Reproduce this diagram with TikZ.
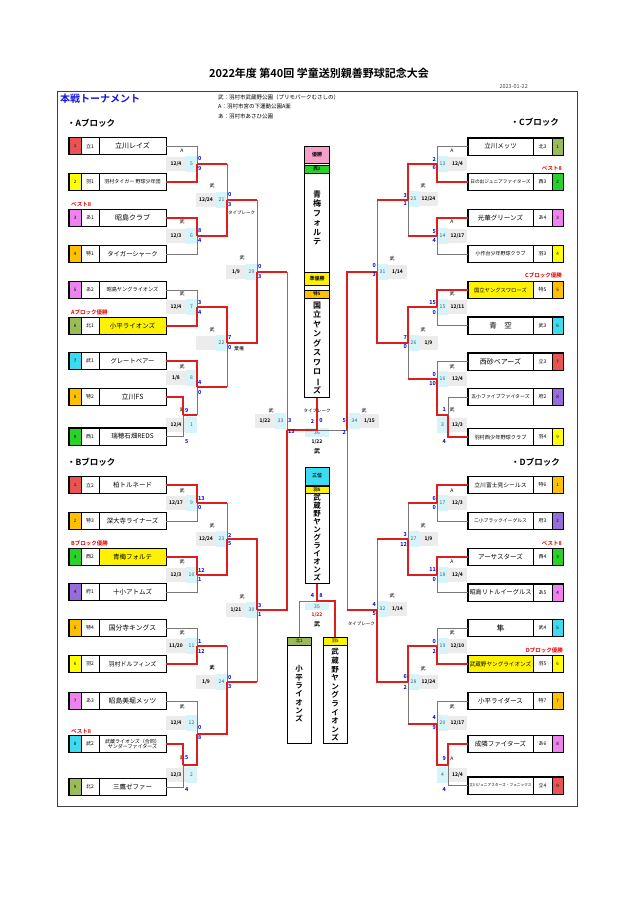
\documentclass[tikz,border=0pt]{standalone}
\usepackage{fontspec}
\setmainfont{Noto Sans CJK JP}[BoldFont={* Bold}]
\usetikzlibrary{calc}
\definecolor{cTachi}{RGB}{232,84,84}
\definecolor{cHamura}{RGB}{255,255,0}
\definecolor{cAki}{RGB}{238,130,238}
\definecolor{cToku}{RGB}{255,192,0}
\definecolor{cKita}{RGB}{155,187,89}
\definecolor{cMusa}{RGB}{60,220,240}
\definecolor{cNishi}{RGB}{40,210,40}
\definecolor{cFu}{RGB}{150,110,220}
\definecolor{lred}{RGB}{220,30,30}
\definecolor{lgray}{RGB}{120,120,120}
\definecolor{cgray}{RGB}{236,236,236}
\definecolor{ccyan}{RGB}{214,244,250}
\definecolor{sblue}{RGB}{0,0,220}
\definecolor{ntext}{RGB}{70,90,110}
\definecolor{pinkH}{RGB}{245,160,200}
\definecolor{tblue}{RGB}{20,20,230}
\definecolor{lblred}{RGB}{230,0,0}
\newcommand\tatebar{\rotatebox[origin=c]{-90}{ー}}
\newcommand\teamL[8]{%
\node[cellbox,fill=#3,minimum width=12pt,font=\fontsize{4.5}{5}\selectfont] (#1n) at (75,#2) {#4};
\node[cellbox,fill=white,minimum width=18pt,font=\fontsize{5}{6}\selectfont] (#1c) at (90,#2) {#5};
\node[cellbox,fill=#6,minimum width=67pt,align=center,font=\fontsize{#7}{#7}\selectfont] (#1) at (132.5,#2) {#8};
\draw[boxline] (#1n.north west) rectangle (#1.south east);}
\newcommand\teamR[8]{%
\node[cellbox,fill=#6,minimum width=65pt,align=center,font=\fontsize{#7}{#7}\selectfont] (#1) at (500.5,#2) {#8};
\node[cellbox,fill=white,minimum width=19pt,font=\fontsize{5}{6}\selectfont] (#1c) at (542.5,#2) {#5};
\node[cellbox,fill=#3,minimum width=11pt,font=\fontsize{4.5}{5}\selectfont] (#1n) at (557.5,#2) {#4};
\draw[boxline] (#1.north west) rectangle (#1n.south east);}
\newcommand\mcL[6]{%
\fill[cgray] (#1-31,#2-7) rectangle (#1-11,#2+7);
\fill[ccyan] (#1-11,#2-8) rectangle (#1,#2+8);
\node[vtxt] (mv#6) at (#1-15,#3) {#4};
\node[dtxt] (md#6) at (#1-21,#2) {#5};
\node[ntxt] (mn#6) at (#1-5.5,#2) {#6};}
\newcommand\mcR[6]{%
\fill[ccyan] (#1,#2-8) rectangle (#1+11,#2+8);
\fill[cgray] (#1+11,#2-7) rectangle (#1+30,#2+7);
\node[vtxt] (mv#6) at (#1+15,#3) {#4};
\node[dtxt] (md#6) at (#1+20.5,#2) {#5};
\node[ntxt] (mn#6) at (#1+5.5,#2) {#6};}
\newcommand\scL[6]{%
\node[sc,anchor=west] (s#1a) at (#2+1,#3) {#4};
\node[sc,anchor=west] (s#1b) at (#2+1,#5) {#6};}
\newcommand\scR[6]{%
\node[sc,anchor=east] (s#1a) at (#2-1,#3) {#4};
\node[sc,anchor=east] (s#1b) at (#2-1,#5) {#6};}
\begin{document}
\begin{tikzpicture}[x=1pt,y=-1pt,
  cellbox/.style={draw,line width=0.4pt,rectangle,inner sep=0pt,minimum height=17pt},
  boxline/.style={line width=1.1pt},
  win/.style={draw=lred,line width=1.6pt},
  lose/.style={draw=lgray,line width=0.8pt},
  sc/.style={text=sblue,font=\bfseries\fontsize{5.5}{6}\selectfont,inner sep=0pt},
  vtxt/.style={font=\fontsize{5}{6}\selectfont,inner sep=0pt},
  dtxt/.style={font=\bfseries\fontsize{5}{6}\selectfont,inner sep=0pt},
  ntxt/.style={text=ntext,font=\fontsize{5}{6}\selectfont,inner sep=0pt},
  lab/.style={text=lblred,font=\bfseries\fontsize{5.5}{6}\selectfont,inner sep=0pt},
  hdr/.style={draw,line width=0.4pt,inner sep=0pt,font=\bfseries\fontsize{5}{6}\selectfont},
  vname/.style={align=center,inner sep=0pt,font=\bfseries\fontsize{8}{9.5}\selectfont},
  tall/.style={draw,line width=1pt,inner sep=0pt,minimum width=24pt},
  small/.style={inner sep=0pt,font=\fontsize{5.5}{6.5}\selectfont},
  blk/.style={inner sep=0pt,font=\bfseries\fontsize{8.5}{9}\selectfont},
]
\useasboundingbox[fill=white] (0,0) rectangle (636,899);
% header
\node[inner sep=0pt,font=\bfseries\fontsize{11}{12}\selectfont] (title) at (319,73) {2022年度 第40回 学童送別親善野球記念大会};
\node[small,anchor=east,text=black!70] (date) at (528,87) {2023-01-22};
\draw[line width=0.8pt,black!75] (57,91) rectangle (577,806);
\node[inner sep=0pt,anchor=west,text=tblue,font=\bfseries\fontsize{10}{11}\selectfont] (honsen) at (60,99) {本戦トーナメント};
\node[small,anchor=west] (ven1) at (218,97) {武：羽村市武蔵野公園（プリモパークむさしの）};
\node[small,anchor=west] (ven2) at (218,106.5) {A：羽村市宮の下運動公園A面};
\node[small,anchor=west] (ven3) at (218,116.5) {あ：羽村市あさひ公園};
\node[blk,anchor=west] (hA) at (67,123) {・Aブロック};
\node[blk,anchor=east] (hC) at (559,122) {・Cブロック};
\node[blk,anchor=west] (hB) at (67,462) {・Bブロック};
\node[blk,anchor=east] (hD) at (560,462) {・Dブロック};
% labels
\node[lab,anchor=west] (lA3) at (71,204) {ベスト8};
\node[lab,anchor=west] (lA6) at (71,312) {Aブロック優勝};
\node[lab,anchor=west] (lB3) at (71,543) {Bブロック優勝};
\node[lab,anchor=west] (lB8) at (71,731) {ベスト8};
\node[lab,anchor=east] (lC2) at (562,168) {ベスト8};
\node[lab,anchor=east] (lC5) at (562,275) {Cブロック優勝};
\node[lab,anchor=east] (lD3) at (562,543) {ベスト8};
\node[lab,anchor=east] (lD6) at (563,650) {Dブロック優勝};
% match cells left
\mcL{197}{164}{151}{A}{12/4}{5}
\mcL{197}{236}{222}{武}{12/3}{6}
\mcL{197}{307}{294}{武}{12/4}{7}
\mcL{197}{425}{410}{武}{12/4}{1}
\mcL{197}{378}{367}{武}{1/8}{8}
\mcL{227}{200}{186}{武}{12/24}{21}
\mcL{227}{343}{330}{武}{}{22}
\mcL{257}{272}{258}{武}{1/9}{29}
\mcL{286}{421}{411}{武}{1/22}{33}
\mcL{197}{503}{491}{武}{12/17}{9}
\mcL{197}{575}{562}{武}{12/3}{10}
\mcL{197}{646}{633}{武}{11/20}{11}
\mcL{197}{723}{707}{武}{12/4}{12}
\mcL{197}{775}{758}{武}{12/3}{2}
\mcL{227}{539}{526}{武}{12/24}{23}
\mcL{227}{682}{668}{\bfseries 武}{1/9}{24}
\mcL{257}{610}{597}{武}{1/21}{30}
% match cells right
\mcR{437}{164}{151}{A}{12/4}{13}
\mcR{437}{236}{222}{A}{12/17}{14}
\mcR{437}{307}{294}{武}{12/11}{15}
\mcR{437}{379}{367}{武}{12/4}{16}
\mcR{437}{425}{410}{武}{12/3}{3}
\mcR{408}{199}{186}{武}{12/24}{25}
\mcR{408}{343}{330}{武}{1/9}{26}
\mcR{377}{272}{259}{武}{1/14}{31}
\mcR{349}{421}{411}{武}{1/15}{34}
\mcR{437}{503}{491}{A}{12/3}{17}
\mcR{437}{575}{562}{A}{12/4}{18}
\mcR{437}{646}{633}{武}{12/10}{19}
\mcR{437}{723}{707}{武}{12/17}{20}
\mcR{437}{775}{759}{A}{12/4}{4}
\mcR{408}{539}{526}{武}{1/9}{27}
\mcR{408}{682}{669}{武}{12/24}{28}
\mcR{377}{609}{596}{武}{1/14}{32}
% center cells
\fill[ccyan] (305,428) rectangle (329,437);
\fill[ccyan] (305,603) rectangle (329,610);
% team boxes left
\teamL{a1}{146}{cTachi}{1}{立1}{white}{7}{立川レイズ}
\teamL{a2}{182}{cHamura}{2}{羽1}{white}{5}{羽村タイガー 野球少年団}
\teamL{a3}{218}{cAki}{3}{あ1}{white}{7}{昭島クラブ}
\teamL{a4}{254}{cToku}{4}{特1}{white}{6.3}{タイガーシャーク}
\teamL{a5}{290}{cAki}{5}{あ2}{white}{5.2}{昭島ヤングライオンズ}
\teamL{a6}{326}{cKita}{6}{北1}{yellow}{6.5}{小平ライオンズ}
\teamL{a7}{361}{cMusa}{7}{武1}{white}{6.3}{グレートベアー}
\teamL{a8}{397}{cToku}{8}{特2}{white}{7}{立川FS}
\teamL{a9}{436.5}{cNishi}{9}{西1}{white}{6.5}{瑞穂石畑REDS}
\teamL{b1}{485}{cTachi}{1}{立2}{white}{6.5}{柏トルネード}
\teamL{b2}{521}{cToku}{2}{特3}{white}{6.5}{深大寺ライナーズ}
\teamL{b3}{557}{cNishi}{3}{西2}{yellow}{6.5}{青梅フォルテ}
\teamL{b4}{592}{cFu}{4}{府1}{white}{6.5}{十小アトムズ}
\teamL{b5}{628}{cToku}{5}{特4}{white}{6.8}{国分寺キングス}
\teamL{b6}{664}{cHamura}{6}{羽2}{white}{6}{羽村ドルフィンズ}
\teamL{b7}{701}{cAki}{7}{あ3}{white}{6.8}{昭島美堀メッツ}
\teamL{b8}{744}{cMusa}{8}{武2}{white}{5}{武蔵ライオンズ（合同）\\サンダーファイターズ}
\teamL{b9}{787}{cKita}{9}{北2}{white}{6.5}{三鷹ゼファー}
% team boxes right
\teamR{c1}{146.5}{cKita}{1}{北3}{white}{6.5}{立川メッツ}
\teamR{c2}{182}{cNishi}{2}{西3}{white}{4.7}{日の出ジュニアファイターズ}
\teamR{c3}{218}{cAki}{3}{あ4}{white}{6.5}{光華グリーンズ}
\teamR{c4}{254}{cHamura}{4}{羽3}{white}{5}{小作台少年野球クラブ}
\teamR{c5}{290}{cToku}{5}{特5}{yellow}{5.3}{国立ヤングスワローズ}
\teamR{c6}{325.5}{cMusa}{6}{武3}{white}{7.5}{青　空}
\teamR{c7}{361.5}{cTachi}{7}{立3}{white}{7}{西砂ベアーズ}
\teamR{c8}{397}{cFu}{8}{府2}{white}{4.9}{五小ファイブファイターズ}
\teamR{c9}{437}{cHamura}{9}{羽4}{white}{5.2}{羽村西少年野球クラブ}
\teamR{d1}{485}{cToku}{1}{特6}{white}{5.8}{立川富士見シールス}
\teamR{d2}{521}{cFu}{2}{府3}{white}{4.8}{二小ブラックイーグルス}
\teamR{d3}{557}{cNishi}{3}{西4}{white}{6.5}{アーサスターズ}
\teamR{d4}{592.5}{cAki}{4}{あ5}{white}{6.2}{昭島リトルイーグルス}
\teamR{d5}{628}{cMusa}{5}{武4}{white}{8}{隼}
\teamR{d6}{664}{cHamura}{6}{羽5}{yellow}{5.6}{武蔵野ヤングライオンズ}
\teamR{d7}{701}{cToku}{7}{特7}{white}{6.5}{小平ライダース}
\teamR{d8}{744}{cAki}{8}{あ6}{white}{6.5}{成隣ファイターズ}
\teamR{d9}{785.5}{cTachi}{9}{立4}{white}{3.7}{立川ジュニアスターズ・フェニックス}
% center tall boxes
\node[hdr,fill=pinkH,minimum width=25pt,minimum height=17pt] (champh) at (317,154.5) {優勝};
\node[hdr,fill=cNishi,minimum width=25pt,minimum height=8.5pt,font=\bfseries\fontsize{4.5}{5}\selectfont] (champc) at (317,169) {西2};
\node[vname] (champname) at (317,218) {青\\梅\\フ\\ォ\\ル\\テ};
\node[hdr,fill=yellow,minimum width=25pt,minimum height=13pt] (runh) at (317,278.5) {準優勝};
\node[hdr,fill=cToku,minimum width=25pt,minimum height=8pt,font=\bfseries\fontsize{4.5}{5}\selectfont] (runc) at (317,294) {特5};
\node[vname] (runname) at (317,348) {国\\立\\ヤ\\ン\\グ\\ス\\ワ\\ロ\\\tatebar\\ズ};
\node[tall,minimum width=25pt,minimum height=251pt] (champ) at (317,271.5) {};
\node[hdr,fill=cMusa,minimum width=24pt,minimum height=18pt] (thirdh) at (317,476) {三位};
\node[hdr,fill=yellow,minimum width=24pt,minimum height=7.5pt,font=\bfseries\fontsize{4.5}{5}\selectfont] (thirdc) at (317,489.5) {羽5};
\node[vname,font=\bfseries\fontsize{7.5}{8}\selectfont] (thirdname) at (317,538) {武\\蔵\\野\\ヤ\\ン\\グ\\ラ\\イ\\オ\\ン\\ズ};
\node[tall,minimum height=116pt] (third) at (317,525) {};
\node[hdr,fill=cKita,minimum width=24pt,minimum height=8pt,font=\fontsize{4.5}{5}\selectfont] (kodh) at (299,641) {北1};
\node[vname,font=\bfseries\fontsize{7.5}{8.3}\selectfont] (kodname) at (299,694) {小\\平\\ラ\\イ\\オ\\ン\\ズ};
\node[tall,minimum height=106pt] (kodaira) at (299,690) {};
\node[hdr,fill=yellow,minimum width=24pt,minimum height=8pt,font=\fontsize{4.5}{5}\selectfont] (mush) at (335,641) {羽5};
\node[vname,font=\bfseries\fontsize{7.5}{8.6}\selectfont] (musname) at (335,695) {武\\蔵\\野\\ヤ\\ン\\グ\\ラ\\イ\\オ\\ン\\ズ};
\node[tall,minimum height=106pt] (musashi) at (335,690) {};
% junctions
\coordinate (m5) at (197,164); \coordinate (m6) at (197,236); \coordinate (m7) at (197,307);
\coordinate (m1) at (183,415); \coordinate (m8) at (197,387);
\coordinate (m21) at (227,200); \coordinate (m22) at (227,343); \coordinate (m29) at (257,272);
\coordinate (m9) at (197,503); \coordinate (m10) at (197,575); \coordinate (m11) at (197,646);
\coordinate (m2) at (183,765); \coordinate (m12) at (197,734);
\coordinate (m23) at (227,539); \coordinate (m24) at (227,682); \coordinate (m30) at (257,610);
\coordinate (m33) at (287,430); \coordinate (m36) at (317,430); \coordinate (m34) at (347,430);
\coordinate (m35) at (317,601);
\coordinate (m13) at (437,164); \coordinate (m14) at (437,236); \coordinate (m15) at (437,307);
\coordinate (m3) at (448,415); \coordinate (m16) at (437,379);
\coordinate (m25) at (408,200); \coordinate (m26) at (408,343); \coordinate (m31) at (377,272);
\coordinate (m17) at (437,503); \coordinate (m18) at (437,575); \coordinate (m19) at (437,646);
\coordinate (m4) at (448,765); \coordinate (m20) at (437,724);
\coordinate (m27) at (408,539); \coordinate (m28) at (408,682); \coordinate (m32) at (377,610);
% losing lines
\draw[lose] (a1.east) -| (m5);
\draw[lose] (a4.east) -| (m6);
\draw[lose] (a5.east) -| (m7);
\draw[lose] (a9.east) -| (m1);
\draw[lose] (m1 -| m8) -- (m8);
\draw[lose] (m5 -| m21) -- (m21);
\draw[lose] (m8 -| m22) -- (m22);
\draw[lose] (m21 -| m29) -- (m29);
\draw[lose] (m29 -| m33) -- (m33);
\draw[lose] (b2.east) -| (m9);
\draw[lose] (b4.east) -| (m10);
\draw[lose] (b5.east) -| (m11);
\draw[lose] (b9.east) -| (m2);
\draw[lose] (b7.east) -| (m12);
\draw[lose] (m9 -| m23) -- (m23);
\draw[lose] (m11 -| m24) -- (m24);
\draw[lose] (m24 -| m30) -- (m30);
\draw[lose] (m34) -- (m36);
\draw[lose] (m35) -| (kodaira.north);
\draw[lose] (c1.west) -| (m13);
\draw[lose] (c4.west) -| (m14);
\draw[lose] (c6.west) -| (m15);
\draw[lose] (c8.west) -| (m3);
\draw[lose] (c7.west) -| (m16);
\draw[lose] (m14 -| m25) -- (m25);
\draw[lose] (m16 -| m26) -- (m26);
\draw[lose] (m25 -| m31) -- (m31);
\draw[lose] (m32 -| m34) -- (m34);
\draw[lose] (d2.west) -| (m17);
\draw[lose] (d4.west) -| (m18);
\draw[lose] (d5.west) -| (m19);
\draw[lose] (d9.west) -| (m4);
\draw[lose] (d7.west) -| (m20);
\draw[lose] (m17 -| m27) -- (m27);
\draw[lose] (m20 -| m28) -- (m28);
\draw[lose] (m27 -| m32) -- (m32);
% winning lines
\draw[win] (a2.east) -| (m5);
\draw[win] (a3.east) -| (m6);
\draw[win] (a6.east) -| (m7);
\draw[win] (a8.east) -| (m1);
\draw[win] (a7.east) -| (m8);
\draw[win] (m1) -- (m1 -| m8);
\draw[win] (m5) -- (m5 -| m21);
\draw[win] (m6) -| (m21);
\draw[win] (m7) -| (m22);
\draw[win] (m8) -- (m8 -| m22);
\draw[win] (m21) -- (m21 -| m29);
\draw[win] (m22) -| (m29);
\draw[win] (m29) -- (m29 -| m33);
\draw[win] (m30) -| (m33);
\draw[win] (m33) -- (m36) -- (champ.south);
\draw[win] (b1.east) -| (m9);
\draw[win] (b3.east) -| (m10);
\draw[win] (b6.east) -| (m11);
\draw[win] (b8.east) -| (m2);
\draw[win] (m2) -| (m12);
\draw[win] (m9) -- (m9 -| m23);
\draw[win] (m10) -| (m23);
\draw[win] (m11) -- (m11 -| m24);
\draw[win] (m12) -| (m24);
\draw[win] (m23) -| (m30);
\draw[win] (m24) -- (m24 -| m30);
\draw[win] (third.south) -- (m35) -| (musashi.north);
\draw[win] (c2.west) -| (m13);
\draw[win] (c3.west) -| (m14);
\draw[win] (c5.west) -| (m15);
\draw[win] (c9.west) -| (m3);
\draw[win] (m3) -| (m16);
\draw[win] (m13) -| (m25);
\draw[win] (m14) -- (m14 -| m25);
\draw[win] (m15) -| (m26);
\draw[win] (m16) -- (m16 -| m26);
\draw[win] (m25) -- (m25 -| m31);
\draw[win] (m26) -| (m31);
\draw[win] (m31) -| (m34);
\draw[win] (m32) -- (m32 -| m34);
\draw[win] (d1.west) -| (m17);
\draw[win] (d3.west) -| (m18);
\draw[win] (d6.west) -| (m19);
\draw[win] (d8.west) -| (m4);
\draw[win] (m4) -| (m20);
\draw[win] (m17) -- (m17 -| m27);
\draw[win] (m18) -| (m27);
\draw[win] (m19) -| (m28);
\draw[win] (m20) -- (m20 -| m28);
\draw[win] (m27) -- (m27 -| m32);
\draw[win] (m28) -| (m32);
% scores left
\scL{5}{197}{159}{0}{169}{9}
\scL{6}{197}{231}{8}{241}{4}
\scL{7}{197}{303}{3}{313}{4}
\scL{1}{184}{411}{9}{442}{5}
\scL{8}{197}{383}{4}{393}{0}
\scL{21}{227}{195}{0}{205}{3}
\scL{22}{227}{338}{7}{348}{0}
\scL{29}{257}{267}{0}{277}{3}
\scL{9}{197}{499}{13}{508}{0}
\scL{10}{197}{570}{12}{580}{1}
\scL{23}{227}{535}{2}{544}{5}
\scL{11}{197}{642}{1}{651}{12}
\scL{2}{184}{758}{5}{790}{4}
\scL{12}{197}{728}{0}{738}{8}
\scL{24}{227}{678}{0}{687}{3}
\scL{30}{257}{606}{3}{615}{1}
\scL{33}{287}{421}{3}{432}{13}
% scores right
\scR{13}{437}{159}{2}{168}{6}
\scR{14}{437}{232}{5}{241}{4}
\scR{25}{408}{196}{3}{204}{1}
\scR{15}{437}{303}{15}{313}{0}
\scR{3}{447}{410}{1}{442}{4}
\scR{16}{437}{375}{0}{384}{10}
\scR{26}{408}{338}{7}{347}{0}
\scR{31}{377}{266}{0}{275}{3}
\scR{17}{437}{499}{6}{508}{0}
\scR{18}{437}{570}{11}{580}{0}
\scR{27}{408}{535}{3}{544}{12}
\scR{19}{437}{642}{0}{651}{2}
\scR{4}{447}{759}{9}{790}{4}
\scR{20}{437}{718}{4}{728}{9}
\scR{28}{408}{677}{6}{687}{2}
\scR{32}{377}{605}{4}{614}{5}
\scR{34}{347}{421}{5}{432}{2}
% notes
\node[vtxt,anchor=west,font=\fontsize{4.5}{5}\selectfont] (tb21) at (228,213) {タイブレーク};
\node[vtxt,anchor=west] (kiken) at (234,349) {棄権};
\node[vtxt,anchor=east,font=\fontsize{4.5}{5}\selectfont] (tb32) at (375,624) {タイブレーク};
% center final
\node[vtxt,font=\fontsize{4.5}{5}\selectfont] (tb36) at (317,411) {タイブレーク};
\node[sc] (s36a) at (312.5,421) {2};
\node[sc] (s36b) at (321,421) {0};
\node[ntxt] (mn36) at (317,432.5) {36};
\node[dtxt] (md36) at (317,442) {1/22};
\node[dtxt,font=\bfseries\fontsize{6}{7}\selectfont] (mv36) at (317,451) {武};
\node[sc] (s35a) at (312.5,596) {4};
\node[sc] (s35b) at (321,596) {8};
\node[ntxt] (mn35) at (317,606.5) {35};
\node[dtxt,text=lblred] (md35) at (317,615) {1/22};
\node[dtxt,font=\bfseries\fontsize{6}{7}\selectfont] (mv35) at (317,624) {武};
\end{tikzpicture}
\end{document}
